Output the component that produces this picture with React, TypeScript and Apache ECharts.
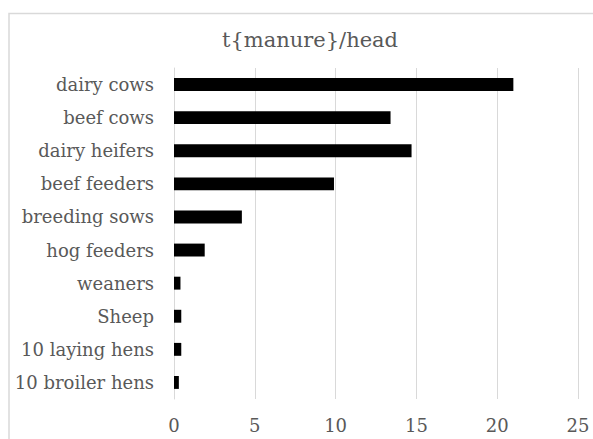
import React, { useEffect, useRef } from "react";
import * as echarts from "echarts";

const categories = [
  "dairy cows",
  "beef cows",
  "dairy heifers",
  "beef feeders",
  "breeding sows",
  "hog feeders",
  "weaners",
  "Sheep",
  "10 laying hens",
  "10 broiler hens",
];
const values = [21, 13.4, 14.7, 9.9, 4.2, 1.9, 0.4, 0.45, 0.45, 0.3];
const titleText = "t{manure}/head";

export default function App() {
  const ref = useRef<HTMLDivElement>(null);
  useEffect(() => {
    if (!ref.current) return;
    const chart = echarts.init(ref.current, undefined, { renderer: "svg" });
    const font = "DejaVu Serif";
    chart.setOption({
      animation: false,
      backgroundColor: "#ffffff",
      textStyle: { fontFamily: font },
      title: {
        text: titleText,
        left: 305,
        textAlign: "center",
        top: 24,
        textStyle: { fontFamily: font, fontSize: 21, fontWeight: "normal", color: "#595959" },
      },
      graphic: [
        {
          type: "rect",
          shape: { x: 9, y: 13.5, width: 700, height: 600 },
          style: { fill: "none", stroke: "#d9d9d9", lineWidth: 1.5 },
          silent: true,
        },
      ],
      grid: { left: 174, right: 15, top: 68, bottom: 40, containLabel: false },
      xAxis: {
        type: "value",
        min: 0,
        max: 25,
        interval: 5,
        axisLine: { show: false },
        axisTick: { show: false },
        splitLine: { show: true, lineStyle: { color: "#d9d9d9", width: 1 } },
        axisLabel: { fontFamily: font, fontSize: 18, color: "#595959", margin: 17 },
      },
      yAxis: {
        type: "category",
        data: categories,
        inverse: true,
        axisLine: { show: true, lineStyle: { color: "#d9d9d9", width: 1 } },
        axisTick: { show: false },
        axisLabel: { fontFamily: font, fontSize: 18, color: "#595959", margin: 20 },
      },
      series: [
        {
          type: "bar",
          data: values,
          barWidth: "39%",
          itemStyle: { color: "#000000" },
        },
      ],
    });
    return () => chart.dispose();
  }, []);
  return (
    <div
      ref={ref}
      style={{ position: "absolute", left: 0, top: 0, width: 593, height: 439 }}
    />
  );
}
